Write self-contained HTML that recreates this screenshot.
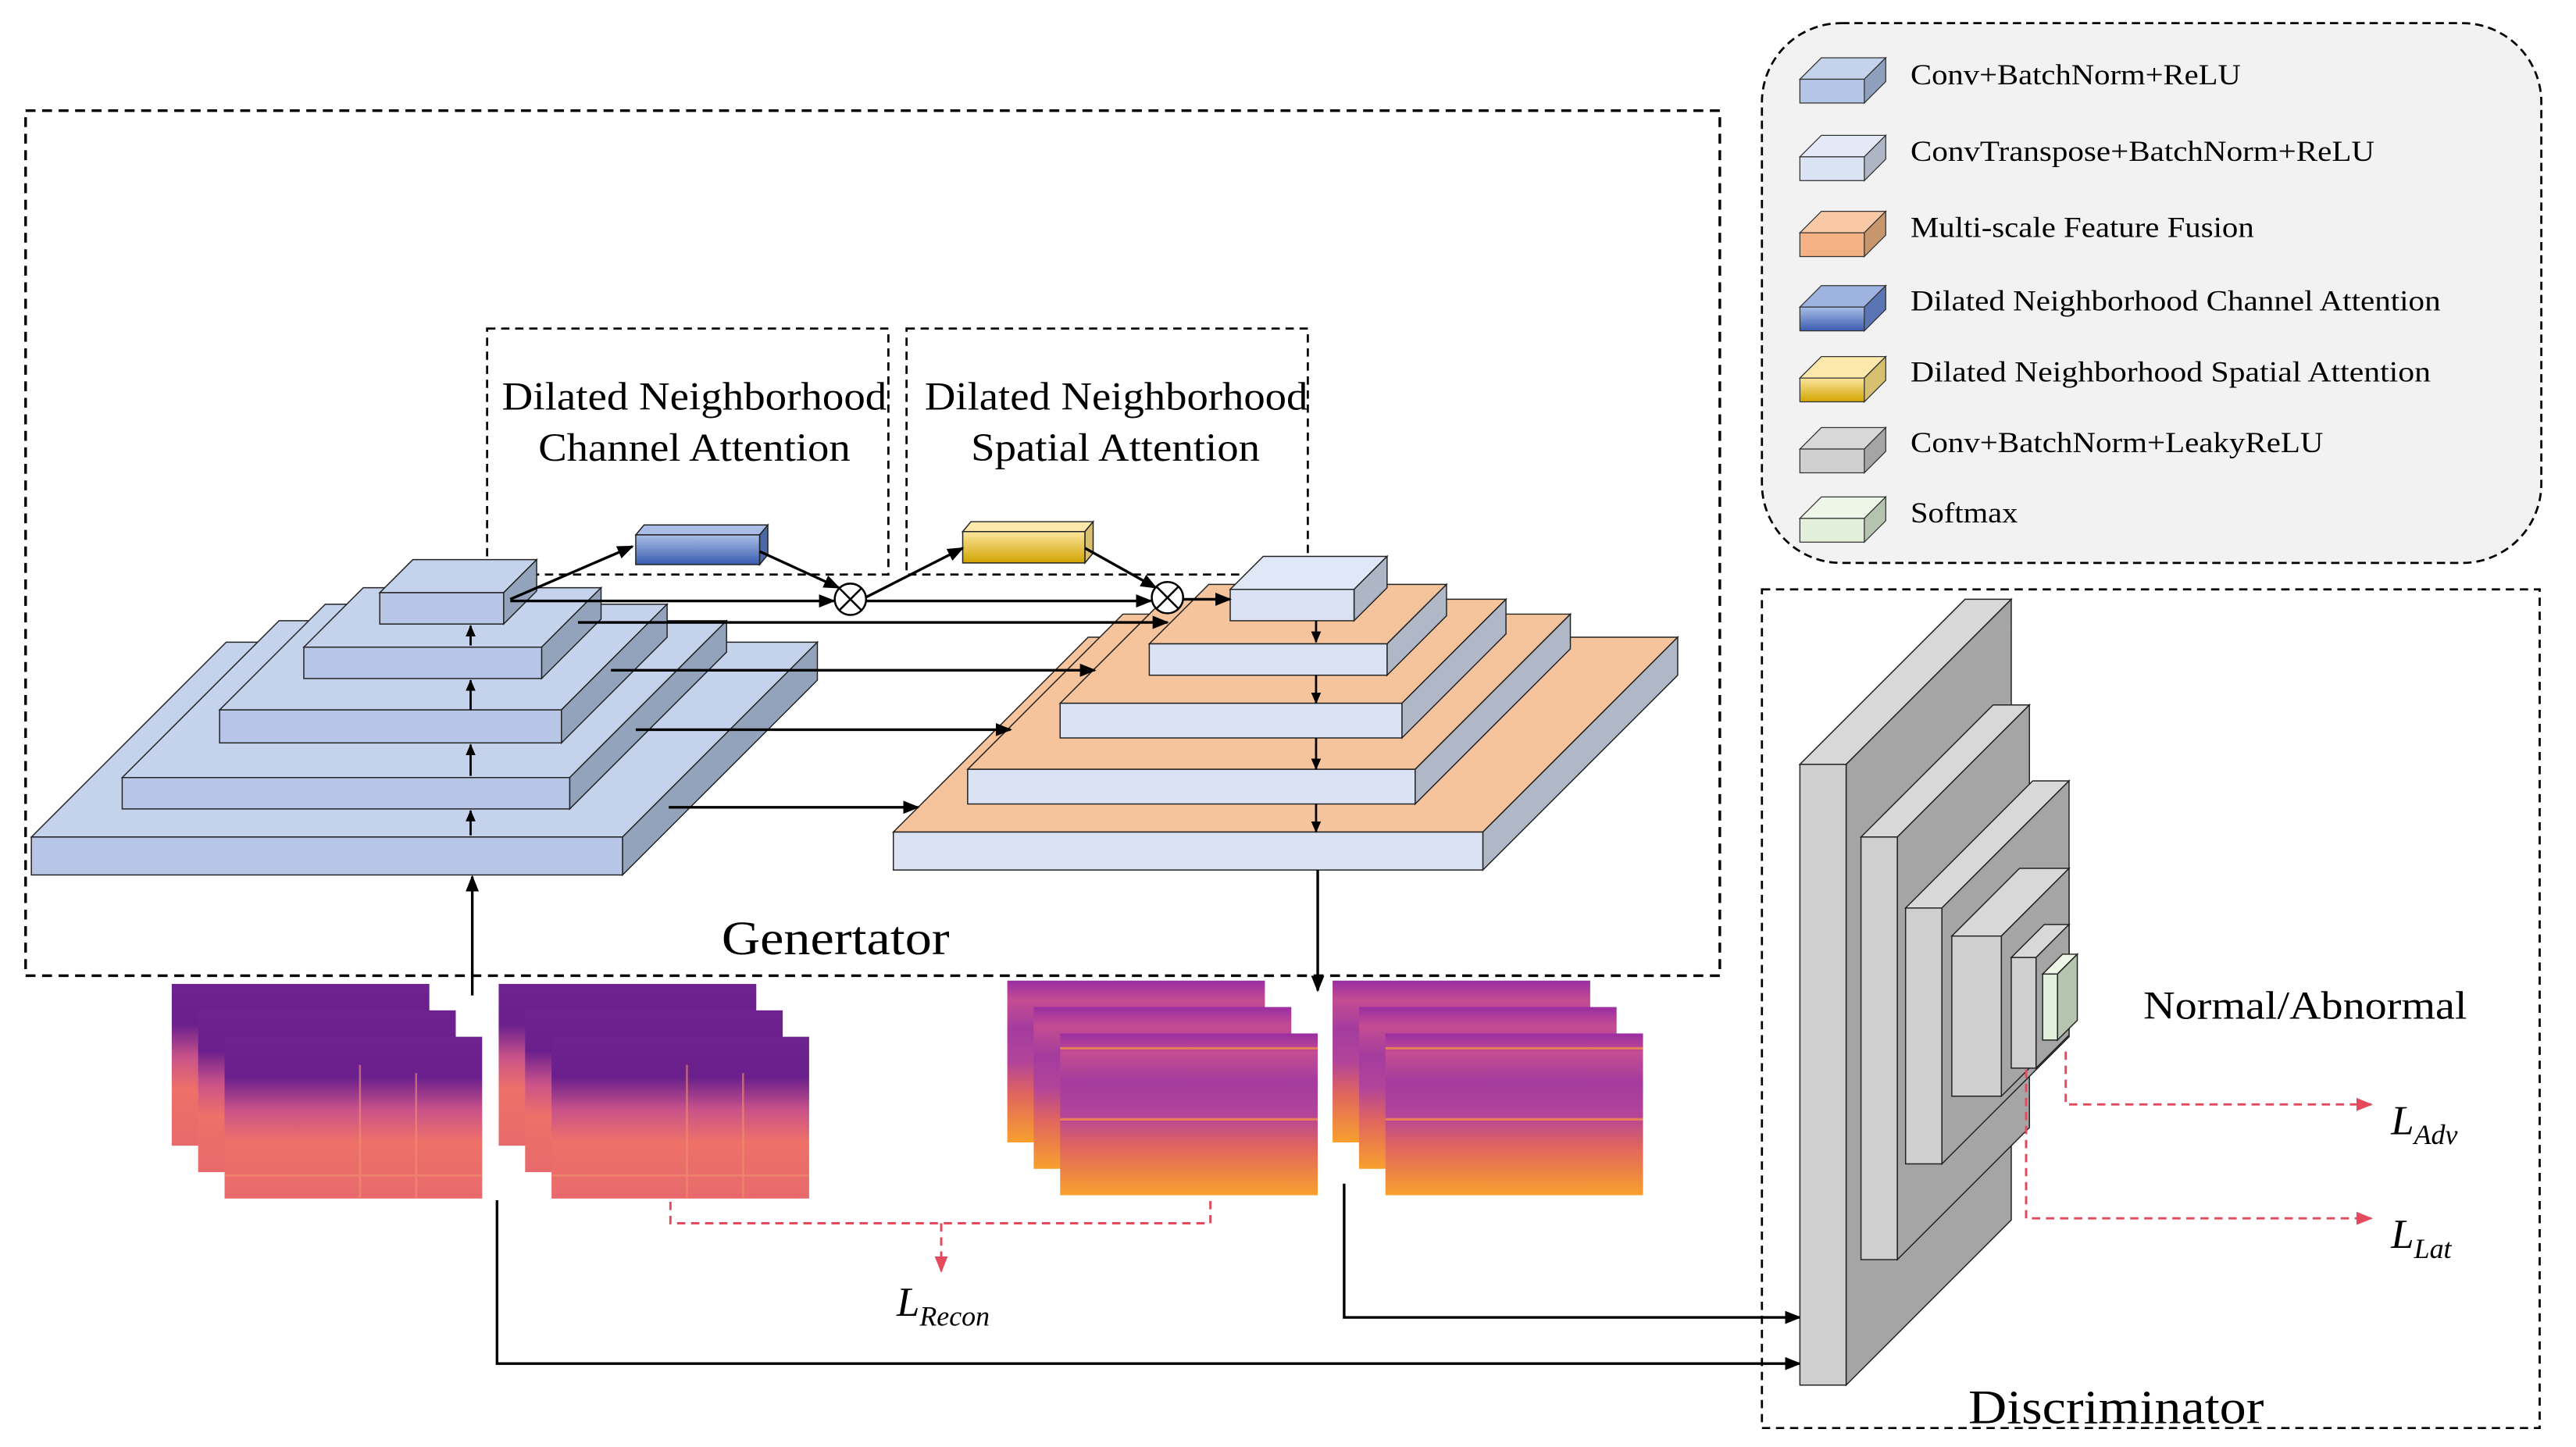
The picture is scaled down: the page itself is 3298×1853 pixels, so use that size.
<!DOCTYPE html>
<html><head><meta charset="utf-8"><style>
html,body{margin:0;padding:0;background:#fff}
svg{display:block}
text{font-family:"Liberation Serif",serif;fill:#000}
</style></head><body>
<svg width="3298" height="1853" viewBox="0 0 1560 876.5" preserveAspectRatio="none" xmlns="http://www.w3.org/2000/svg">
<defs>
<marker id="ar" markerWidth="10" markerHeight="8" refX="9" refY="4" orient="auto" markerUnits="userSpaceOnUse"><path d="M0,0 L10,4 L0,8 z" fill="#000"/></marker>
<marker id="as" markerWidth="7" markerHeight="6" refX="6.5" refY="3" orient="auto" markerUnits="userSpaceOnUse"><path d="M0,0 L7,3 L0,6 z" fill="#000"/></marker>
<marker id="rr" markerWidth="10" markerHeight="8" refX="9" refY="4" orient="auto" markerUnits="userSpaceOnUse"><path d="M0,0 L10,4 L0,8 z" fill="#e34a5e"/></marker>
<linearGradient id="gb" x1="0" y1="0" x2="0" y2="1"><stop offset="0" stop-color="#a9bde6"/><stop offset="1" stop-color="#3a5cb0"/></linearGradient>
<linearGradient id="gy" x1="0" y1="0" x2="0" y2="1"><stop offset="0" stop-color="#fbe59e"/><stop offset="1" stop-color="#d2a400"/></linearGradient>
<linearGradient id="se" x1="0" y1="0" x2="0" y2="1"><stop offset="0" stop-color="#6e2290"/><stop offset="0.25" stop-color="#6a1f8c"/><stop offset="0.45" stop-color="#c8528a"/><stop offset="0.65" stop-color="#ee7068"/><stop offset="1" stop-color="#e86a6c"/></linearGradient>
<linearGradient id="sd" x1="0" y1="0" x2="0" y2="1"><stop offset="0" stop-color="#9a2ea2"/><stop offset="0.12" stop-color="#c44d92"/><stop offset="0.3" stop-color="#a43c9e"/><stop offset="0.5" stop-color="#b2449a"/><stop offset="0.7" stop-color="#e0655e"/><stop offset="1" stop-color="#f8a02e"/></linearGradient>
</defs>

<rect x="1067" y="14" width="472" height="327" rx="48" ry="48" fill="#f2f2f2" stroke="#000" stroke-width="1.3" stroke-dasharray="5,3"/>
<g stroke="#333" stroke-width="0.6">
<polygon points="1090,48 1103,35 1142,35 1129,48" fill="#c5d2ec"/><polygon points="1129,48 1142,35 1142,49.4 1129,62.4" fill="#8fa0bd"/><rect x="1090" y="48" width="39" height="14.4" fill="#b4c6e7"/>
<polygon points="1090,95 1103,82 1142,82 1129,95" fill="#e3e9f7"/><polygon points="1129,95 1142,82 1142,96.4 1129,109.4" fill="#aeb6c6"/><rect x="1090" y="95" width="39" height="14.4" fill="#dae3f3"/>
<polygon points="1090,141 1103,128 1142,128 1129,141" fill="#f8c9a4"/><polygon points="1129,141 1142,128 1142,142.4 1129,155.4" fill="#c8966c"/><rect x="1090" y="141" width="39" height="14.4" fill="#f4b183"/>
<polygon points="1090,186 1103,173 1142,173 1129,186" fill="#9fb3e0"/><polygon points="1129,186 1142,173 1142,187.4 1129,200.4" fill="#5a74b4"/><rect x="1090" y="186" width="39" height="14.4" fill="url(#gb)"/>
<polygon points="1090,229 1103,216 1142,216 1129,229" fill="#fbe8aa"/><polygon points="1129,229 1142,216 1142,230.4 1129,243.4" fill="#d6bf6e"/><rect x="1090" y="229" width="39" height="14.4" fill="url(#gy)"/>
<polygon points="1090,272 1103,259 1142,259 1129,272" fill="#d9d8d9"/><polygon points="1129,272 1142,259 1142,273.4 1129,286.4" fill="#a6a5a6"/><rect x="1090" y="272" width="39" height="14.4" fill="#d0cfd0"/>
<polygon points="1090,314 1103,301 1142,301 1129,314" fill="#eef6e8"/><polygon points="1129,314 1142,301 1142,315.4 1129,328.4" fill="#b5c4ae"/><rect x="1090" y="314" width="39" height="14.4" fill="#e2efda"/>
</g>
<g font-size="17.5">
<text x="1157" y="51" textLength="200" lengthAdjust="spacingAndGlyphs">Conv+BatchNorm+ReLU</text>
<text x="1157" y="97.5" textLength="281" lengthAdjust="spacingAndGlyphs">ConvTranspose+BatchNorm+ReLU</text>
<text x="1157" y="143.5" textLength="208" lengthAdjust="spacingAndGlyphs">Multi-scale Feature Fusion</text>
<text x="1157" y="188" textLength="321" lengthAdjust="spacingAndGlyphs">Dilated Neighborhood Channel Attention</text>
<text x="1157" y="231" textLength="315" lengthAdjust="spacingAndGlyphs">Dilated Neighborhood Spatial  Attention</text>
<text x="1157" y="274" textLength="250" lengthAdjust="spacingAndGlyphs">Conv+BatchNorm+LeakyReLU</text>
<text x="1157" y="316.5" textLength="65" lengthAdjust="spacingAndGlyphs">Softmax</text>
</g>

<rect x="15.5" y="67" width="1026" height="524" fill="none" stroke="#000" stroke-width="1.6" stroke-dasharray="6,4"/>
<rect x="295" y="199" width="243" height="149" fill="none" stroke="#000" stroke-width="1.3" stroke-dasharray="5,3.5"/>
<rect x="549" y="199" width="243" height="149" fill="none" stroke="#000" stroke-width="1.3" stroke-dasharray="5,3.5"/>
<rect x="1067" y="357" width="471" height="508" fill="none" stroke="#000" stroke-width="1.3" stroke-dasharray="5,3.5"/>

<g font-size="24">
<text x="304" y="248" textLength="233" lengthAdjust="spacingAndGlyphs">Dilated Neighborhood</text>
<text x="326" y="279" textLength="189" lengthAdjust="spacingAndGlyphs">Channel Attention</text>
<text x="560" y="248" textLength="232" lengthAdjust="spacingAndGlyphs">Dilated Neighborhood</text>
<text x="588" y="279" textLength="175" lengthAdjust="spacingAndGlyphs">Spatial Attention</text>
</g>
<text x="437" y="578" font-size="29" textLength="138" lengthAdjust="spacingAndGlyphs">Genertator</text>
<text x="1192" y="862" font-size="29" textLength="179" lengthAdjust="spacingAndGlyphs">Discriminator</text>
<text x="1298" y="617" font-size="24" textLength="196" lengthAdjust="spacingAndGlyphs">Normal/Abnormal</text>

<g stroke="#222" stroke-width="0.7">
<polygon points="19,507 137,389 495,389 377,507" fill="#c5d2ec"/><polygon points="377,507 495,389 495,412 377,530" fill="#94a3bc"/><rect x="19" y="507" width="358" height="23" fill="#b7c6e7"/>
<polygon points="74,471 169,376 440,376 345,471" fill="#c5d2ec"/><polygon points="345,471 440,376 440,395 345,490" fill="#94a3bc"/><rect x="74" y="471" width="271" height="19" fill="#b7c6e7"/>
<polygon points="133,430 197,366 404,366 340,430" fill="#c5d2ec"/><polygon points="340,430 404,366 404,386 340,450" fill="#94a3bc"/><rect x="133" y="430" width="207" height="20" fill="#b7c6e7"/>
<polygon points="184,392 220,356 364,356 328,392" fill="#c5d2ec"/><polygon points="328,392 364,356 364,375 328,411" fill="#94a3bc"/><rect x="184" y="392" width="144" height="19" fill="#b7c6e7"/>
<polygon points="230,359 250,339 325,339 305,359" fill="#c5d2ec"/><polygon points="305,359 325,339 325,358 305,378" fill="#94a3bc"/><rect x="230" y="359" width="75" height="19" fill="#b7c6e7"/>
</g>

<g stroke="#222" stroke-width="0.7">
<polygon points="541,504 659,386 1016,386 898,504" fill="#f6c49c"/><polygon points="898,504 1016,386 1016,409 898,527" fill="#b0b8c8"/><rect x="541" y="504" width="357" height="23" fill="#dae2f3"/>
<polygon points="586,466 680,372 951,372 857,466" fill="#f6c49c"/><polygon points="857,466 951,372 951,393 857,487" fill="#b0b8c8"/><rect x="586" y="466" width="271" height="21" fill="#dae2f3"/>
<polygon points="642,426 705,363 912,363 849,426" fill="#f6c49c"/><polygon points="849,426 912,363 912,384 849,447" fill="#b0b8c8"/><rect x="642" y="426" width="207" height="21" fill="#dae2f3"/>
<polygon points="696,390 732,354 876,354 840,390" fill="#f6c49c"/><polygon points="840,390 876,354 876,373 840,409" fill="#b0b8c8"/><rect x="696" y="390" width="144" height="19" fill="#dae2f3"/>
<polygon points="745,357 765,337 840,337 820,357" fill="#e0e8f7"/><polygon points="820,357 840,337 840,356 820,376" fill="#aeb6c6"/><rect x="745" y="357" width="75" height="19" fill="#dae2f3"/>
</g>

<g stroke="#222" stroke-width="0.7">
<polygon points="385,324 390,318 465,318 460,324" fill="#a9bde6"/><polygon points="460,324 465,318 465,336 460,342" fill="#4a68a8"/><rect x="385" y="324" width="75" height="18" fill="url(#gb)"/>
<polygon points="583,322 588,316 662,316 657,322" fill="#fbe8aa"/><polygon points="657,322 662,316 662,335 657,341" fill="#d6bf6e"/><rect x="583" y="322" width="74" height="19" fill="url(#gy)"/>
</g>
<g stroke="#000" stroke-width="1.2" fill="#fff">
<circle cx="515" cy="363" r="9.5"/><path d="M508.3,356.3 L521.7,369.7 M521.7,356.3 L508.3,369.7"/>
<circle cx="707" cy="362" r="9.5"/><path d="M700.3,355.3 L713.7,368.7 M713.7,355.3 L700.3,368.7"/>
</g>

<g stroke="#000" stroke-width="1.6" fill="none">
<line x1="309" y1="363" x2="383" y2="331" marker-end="url(#ar)"/>
<line x1="309" y1="364" x2="505" y2="364" marker-end="url(#ar)"/>
<line x1="460" y1="334" x2="508" y2="356" marker-end="url(#ar)"/>
<line x1="524" y1="362" x2="583" y2="332" marker-end="url(#ar)"/>
<line x1="524" y1="364" x2="697" y2="364" marker-end="url(#ar)"/>
<line x1="657" y1="332" x2="700" y2="356" marker-end="url(#ar)"/>
<line x1="716" y1="363" x2="745" y2="363" marker-end="url(#ar)"/>
<line x1="350" y1="377" x2="707" y2="377" marker-end="url(#ar)"/>
<line x1="370" y1="406" x2="663" y2="406" marker-end="url(#ar)"/>
<line x1="385" y1="442" x2="612" y2="442" marker-end="url(#ar)"/>
<line x1="405" y1="489" x2="556" y2="489" marker-end="url(#ar)"/>
<line x1="286" y1="603" x2="286" y2="531" marker-end="url(#ar)"/>
<line x1="798" y1="527" x2="798" y2="600" marker-end="url(#ar)"/>
<polyline points="301,727 301,826 1090,826" marker-end="url(#ar)"/>
<polyline points="814,717 814,798 1090,798" marker-end="url(#ar)"/>
</g>
<g stroke="#000" stroke-width="1.3">
<line x1="285" y1="506" x2="285" y2="491" marker-end="url(#as)"/>
<line x1="285" y1="470" x2="285" y2="451" marker-end="url(#as)"/>
<line x1="285" y1="430" x2="285" y2="412" marker-end="url(#as)"/>
<line x1="285" y1="391" x2="285" y2="379" marker-end="url(#as)"/>
<line x1="797" y1="376" x2="797" y2="389" marker-end="url(#as)"/>
<line x1="797" y1="409" x2="797" y2="426" marker-end="url(#as)"/>
<line x1="797" y1="447" x2="797" y2="466" marker-end="url(#as)"/>
<line x1="797" y1="487" x2="797" y2="504" marker-end="url(#as)"/>
</g>

<g>
<rect x="104" y="596" width="156" height="98" fill="url(#se)"/>
<rect x="120" y="612" width="156" height="98" fill="url(#se)"/>
<rect x="136" y="628" width="156" height="98" fill="url(#se)"/>
<rect x="302" y="596" width="156" height="98" fill="url(#se)"/>
<rect x="318" y="612" width="156" height="98" fill="url(#se)"/>
<rect x="334" y="628" width="156" height="98" fill="url(#se)"/>
<rect x="610" y="594" width="156" height="98" fill="url(#sd)"/>
<rect x="626" y="610" width="156" height="98" fill="url(#sd)"/>
<rect x="642" y="626" width="156" height="98" fill="url(#sd)"/>
<rect x="807" y="594" width="156" height="98" fill="url(#sd)"/>
<rect x="823" y="610" width="156" height="98" fill="url(#sd)"/>
<rect x="839" y="626" width="156" height="98" fill="url(#sd)"/>
</g>
<g stroke="#f08a50" stroke-width="1.5" opacity="0.8">
<line x1="642" y1="635" x2="798" y2="635"/><line x1="642" y1="678" x2="798" y2="678"/>
<line x1="839" y1="635" x2="995" y2="635"/><line x1="839" y1="678" x2="995" y2="678"/>
</g>
<g stroke="#f39070" stroke-width="1.2" opacity="0.6">
<line x1="136" y1="712" x2="292" y2="712"/><line x1="334" y1="712" x2="490" y2="712"/>
<line x1="218" y1="645" x2="218" y2="726"/><line x1="252" y1="650" x2="252" y2="726"/>
<line x1="416" y1="645" x2="416" y2="726"/><line x1="450" y1="650" x2="450" y2="726"/>
</g>

<g stroke="#222" stroke-width="0.7">
<polygon points="1090,463 1190,363 1218,363 1118,463" fill="#d9d8d9"/><polygon points="1118,463 1218,363 1218,739 1118,839" fill="#a6a5a6"/><rect x="1090" y="463" width="28" height="376" fill="#d0cfd0"/>
<polygon points="1127,507 1207,427 1229,427 1149,507" fill="#d9d8d9"/><polygon points="1149,507 1229,427 1229,683 1149,763" fill="#a6a5a6"/><rect x="1127" y="507" width="22" height="256" fill="#d0cfd0"/>
<polygon points="1154,550 1231,473 1253,473 1176,550" fill="#d9d8d9"/><polygon points="1176,550 1253,473 1253,628 1176,705" fill="#a6a5a6"/><rect x="1154" y="550" width="22" height="155" fill="#d0cfd0"/>
<polygon points="1182,567 1223,526 1253,526 1212,567" fill="#d9d8d9"/><polygon points="1212,567 1253,526 1253,623 1212,664" fill="#a6a5a6"/><rect x="1182" y="567" width="30" height="97" fill="#d0cfd0"/>
<polygon points="1218,580 1238,560 1253,560 1233,580" fill="#d9d8d9"/><polygon points="1233,580 1253,560 1253,627 1233,647" fill="#a6a5a6"/><rect x="1218" y="580" width="15" height="67" fill="#d0cfd0"/>
<polygon points="1237,590 1249,578 1258,578 1246,590" fill="#eef6e8"/><polygon points="1246,590 1258,578 1258,618 1246,630" fill="#b5c4ae"/><rect x="1237" y="590" width="9" height="40" fill="#e2efda"/>
</g>

<g stroke="#e34a5e" stroke-width="1.4" fill="none" stroke-dasharray="5,3.5">
<polyline points="1251,637 1251,669 1436,669" marker-end="url(#rr)"/>
<polyline points="1227,648 1227,738 1436,738" marker-end="url(#rr)"/>
<polyline points="406,728 406,741 733,741 733,727"/>
<polyline points="570,741 570,770" marker-end="url(#rr)"/>
</g>
<g font-style="italic">
<text x="543" y="797" font-size="25">L<tspan font-size="17" dy="6">Recon</tspan></text>
<text x="1448" y="687" font-size="25">L<tspan font-size="17" dy="6">Adv</tspan></text>
<text x="1448" y="756" font-size="25">L<tspan font-size="17" dy="6">Lat</tspan></text>
</g>
</svg>
</body></html>
